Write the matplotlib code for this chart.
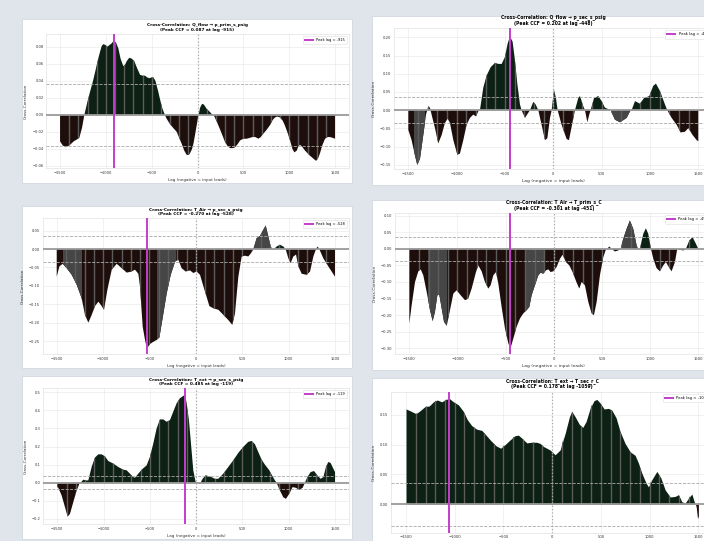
import matplotlib
matplotlib.use("Agg")
import matplotlib.pyplot as plt
import numpy as np
from matplotlib.patches import Rectangle
from matplotlib.path import Path

# cross-correlation curves, one per driver/target pair (lag in samples)
q_prim_lags = [-1500, -1470, -1440, -1400, -1350, -1318, -1290, -1260, -1235, -1200, -1173, -1140,
               -1118, -1090, -1064, -1045, -1027, -1005, -984, -960, -936, -915, -890, -864, -840,
               -809, -790, -773, -745, -718, -690, -660, -627, -600, -573, -550, -525, -500, -482,
               -460, -430, -409, -385, -360, -340, -300, -260, -227, -200, -173, -145, -118, -95,
               -82, -60, -45, -25, -9, 10, 30, 50, 70, 100, 130, 155, 175, 210, 245, 275, 300, 330,
               355, 385, 409, 440, 464, 500, 536, 570, 600, 630, 664, 690, 718, 750, 791, 820, 845,
               870, 900, 930, 955, 985, 1009, 1035, 1056, 1082, 1100, 1118, 1145, 1173, 1200, 1227,
               1260, 1293, 1315, 1336, 1360, 1391, 1420, 1445, 1475, 1500]
q_prim_ccf = [-0.031, -0.036, -0.038, -0.036, -0.031, -0.029, -0.027, -0.015, 0.0, 0.016, 0.027, 0.040,
              0.050, 0.063, 0.074, 0.081, 0.083, 0.082, 0.080, 0.082, 0.084, 0.087, 0.085, 0.078, 0.066,
              0.057, 0.059, 0.063, 0.067, 0.066, 0.063, 0.055, 0.047, 0.046, 0.046, 0.044, 0.043, 0.044,
              0.044, 0.040, 0.028, 0.018, 0.008, 0.001, -0.004, -0.011, -0.016, -0.020, -0.027, -0.034,
              -0.042, -0.047, -0.047, -0.045, -0.040, -0.034, -0.022, -0.012, 0.0, 0.009, 0.013, 0.012,
              0.007, 0.004, 0.001, 0.0, -0.008, -0.017, -0.025, -0.032, -0.037, -0.039, -0.039, -0.038,
              -0.034, -0.030, -0.028, -0.028, -0.027, -0.026, -0.026, -0.028, -0.026, -0.022, -0.018,
              -0.012, -0.006, -0.003, -0.002, -0.003, -0.007, -0.013, -0.022, -0.030, -0.040, -0.044,
              -0.042, -0.037, -0.035, -0.038, -0.042, -0.045, -0.048, -0.051, -0.054, -0.051, -0.045,
              -0.036, -0.028, -0.026, -0.026, -0.027, -0.028]

q_sec_lags = [-1500, -1466, -1431, -1407, -1379, -1345, -1317, -1293, -1276, -1259, -1224, -1190, -1155,
              -1121, -1093, -1069, -1034, -993, -966, -931, -897, -862, -828, -800, -776, -759, -724,
              -690, -648, -603, -569, -534, -500, -472, -448, -421, -397, -372, -345, -328, -293, -259,
              -241, -207, -183, -155, -121, -86, -62, -34, -17, 7, 27, 45, 86, 138, 162, 190, 224, 259,
              276, 310, 328, 352, 372, 386, 421, 466, 500, 534, 579, 593, 638, 690, 759, 793, 810, 845,
              896, 938, 993, 1034, 1062, 1103, 1155, 1179, 1224, 1276, 1317, 1362, 1397, 1441, 1483, 1500]
q_sec_ccf = [-0.054, -0.082, -0.124, -0.150, -0.133, -0.068, -0.012, 0.011, 0.007, -0.012, -0.049, -0.091,
             -0.068, -0.035, -0.023, -0.035, -0.082, -0.122, -0.119, -0.082, -0.040, -0.021, -0.012,
             -0.017, -0.003, 0.0, 0.062, 0.095, 0.118, 0.130, 0.127, 0.127, 0.146, 0.183, 0.202, 0.188,
             0.137, 0.072, 0.016, 0.0, -0.021, -0.007, 0.0, 0.023, 0.016, 0.0, -0.040, -0.082, -0.077,
             -0.021, 0.0, 0.056, 0.034, 0.0, -0.040, -0.079, -0.082, -0.045, 0.0, 0.034, 0.039, 0.011,
             0.0, -0.033, -0.012, 0.0, 0.033, 0.039, 0.025, 0.007, 0.002, 0.0, -0.026, -0.033, -0.021,
             -0.003, 0.0, 0.025, 0.018, 0.033, 0.039, 0.067, 0.073, 0.053, 0.016, 0.0, -0.021, -0.040,
             -0.061, -0.059, -0.049, -0.068, -0.082, -0.085]

air_sec_lags = [-1500, -1471, -1435, -1392, -1338, -1284, -1231, -1195, -1159, -1123, -1087, -1051, -1015,
                -990, -954, -907, -853, -799, -745, -692, -656, -620, -602, -573, -548, -528, -494, -458,
                -422, -393, -350, -314, -271, -224, -189, -153, -110, -63, -27, 9, 45, 74, 110, 146, 189,
                243, 297, 350, 393, 422, 458, 494, 530, 566, 595, 620, 656, 692, 728, 753, 781, 807, 828,
                843, 871, 907, 943, 968, 997, 1022, 1051, 1080, 1105, 1141, 1195, 1231, 1267, 1295, 1313,
                1331, 1374, 1428, 1500]
air_sec_ccf = [-0.075, -0.047, -0.040, -0.052, -0.070, -0.097, -0.134, -0.179, -0.200, -0.179, -0.155,
               -0.143, -0.155, -0.165, -0.111, -0.056, -0.040, -0.052, -0.064, -0.061, -0.056, -0.067,
               -0.102, -0.211, -0.247, -0.270, -0.258, -0.252, -0.247, -0.240, -0.175, -0.120, -0.070,
               -0.034, -0.029, -0.052, -0.061, -0.058, -0.065, -0.061, -0.070, -0.095, -0.125, -0.155,
               -0.161, -0.165, -0.179, -0.193, -0.206, -0.175, -0.075, -0.020, -0.018, -0.020, -0.011,
               0.0, 0.030, 0.036, 0.053, 0.064, 0.035, 0.007, -0.002, 0.0, 0.007, 0.012, 0.007, 0.0,
               -0.025, -0.038, -0.020, -0.015, -0.047, -0.067, -0.070, -0.061, -0.020, 0.0, 0.007, 0.0,
               -0.025, -0.047, -0.075]

air_prim_lags = [-1500, -1476, -1441, -1407, -1382, -1355, -1320, -1285, -1258, -1234, -1209, -1189, -1164,
                 -1140, -1112, -1078, -1043, -1009, -967, -922, -888, -853, -808, -784, -749, -715, -680,
                 -656, -628, -600, -576, -542, -507, -472, -451, -420, -386, -351, -317, -282, -254, -230,
                 -196, -161, -137, -109, -81, -57, -33, -6, 29, 64, 92, 126, 161, 195, 237, 265, 289, 323,
                 358, 393, 417, 445, 479, 514, 541, 555, 576, 600, 635, 669, 694, 721, 756, 790, 825, 860,
                 877, 894, 929, 956, 981, 1009, 1033, 1067, 1102, 1137, 1164, 1188, 1223, 1258, 1282, 1310,
                 1344, 1372, 1407, 1441, 1476, 1500]
air_prim_ccf = [-0.225, -0.170, -0.100, -0.068, -0.062, -0.080, -0.130, -0.185, -0.218, -0.190, -0.140,
                -0.138, -0.180, -0.220, -0.232, -0.185, -0.135, -0.125, -0.140, -0.155, -0.150, -0.120,
                -0.070, -0.050, -0.068, -0.100, -0.120, -0.110, -0.080, -0.070, -0.105, -0.175, -0.240,
                -0.285, -0.301, -0.270, -0.235, -0.210, -0.195, -0.185, -0.175, -0.140, -0.110, -0.080,
                -0.072, -0.075, -0.065, -0.062, -0.070, -0.068, -0.055, -0.030, -0.018, -0.040, -0.050,
                -0.070, -0.102, -0.120, -0.100, -0.110, -0.160, -0.195, -0.200, -0.160, -0.080, -0.025,
                -0.002, 0.0, 0.007, 0.0, -0.008, -0.005, 0.0, 0.030, 0.060, 0.085, 0.060, 0.010, -0.003,
                0.0, 0.045, 0.062, 0.045, 0.0, -0.030, -0.058, -0.068, -0.050, -0.040, -0.052, -0.068,
                -0.040, 0.0, -0.003, -0.005, 0.0, 0.025, 0.035, 0.015, 0.0]

ext_sec_lags = [-1500, -1489, -1453, -1417, -1388, -1363, -1327, -1291, -1262, -1248, -1219, -1190, -1165,
                -1129, -1093, -1057, -1021, -985, -949, -895, -841, -787, -751, -715, -679, -661, -625,
                -589, -535, -499, -463, -427, -391, -355, -319, -283, -247, -211, -175, -145, -119, -103,
                -78, -56, -31, -6, 16, 41, 70, 102, 149, 203, 239, 293, 347, 401, 455, 509, 563, 599, 635,
                671, 707, 743, 790, 826, 851, 869, 905, 941, 970, 1006, 1042, 1078, 1114, 1150, 1175,
                1201, 1237, 1273, 1309, 1345, 1374, 1402, 1428, 1453, 1482, 1500]
ext_sec_ccf = [-0.024, -0.028, -0.070, -0.135, -0.187, -0.172, -0.107, -0.043, -0.006, 0.0, 0.017, 0.013,
               0.013, 0.087, 0.139, 0.157, 0.157, 0.146, 0.120, 0.106, 0.087, 0.072, 0.069, 0.050, 0.031,
               0.028, 0.050, 0.072, 0.096, 0.143, 0.217, 0.300, 0.350, 0.350, 0.337, 0.346, 0.393, 0.439,
               0.467, 0.478, 0.485, 0.439, 0.346, 0.217, 0.069, 0.004, 0.0, -0.006, 0.022, 0.041, 0.035,
               0.022, 0.022, 0.050, 0.087, 0.124, 0.165, 0.198, 0.226, 0.231, 0.213, 0.170, 0.128, 0.100,
               0.069, 0.035, 0.013, 0.0, -0.043, -0.080, -0.089, -0.061, -0.024, -0.028, -0.039, -0.028,
               0.0, 0.031, 0.059, 0.065, 0.041, 0.022, 0.031, 0.087, 0.115, 0.109, 0.078, 0.059]

ext_ret_lags = [-1500, -1459, -1397, -1356, -1305, -1261, -1219, -1178, -1134, -1100, -1059, -1014, -963,
                -912, -871, -826, -775, -723, -679, -631, -576, -528, -484, -432, -381, -347, -312, -261,
                -210, -158, -124, -90, -22, 30, 81, 133, 177, 201, 235, 279, 314, 348, 389, 430, 458, 492,
                533, 577, 612, 656, 697, 748, 800, 851, 885, 920, 964, 988, 1022, 1074, 1115, 1159, 1211,
                1262, 1296, 1330, 1364, 1399, 1433, 1457, 1470, 1478, 1491, 1500]
ext_ret_ccf = [0.160, 0.157, 0.152, 0.157, 0.164, 0.165, 0.172, 0.175, 0.172, 0.175, 0.178, 0.172, 0.167,
               0.156, 0.142, 0.132, 0.126, 0.124, 0.116, 0.107, 0.098, 0.094, 0.100, 0.108, 0.115, 0.116,
               0.111, 0.103, 0.104, 0.104, 0.102, 0.097, 0.091, 0.083, 0.091, 0.119, 0.147, 0.156, 0.147,
               0.134, 0.129, 0.139, 0.161, 0.174, 0.176, 0.170, 0.160, 0.161, 0.158, 0.145, 0.122, 0.102,
               0.088, 0.082, 0.069, 0.052, 0.035, 0.029, 0.041, 0.055, 0.044, 0.024, 0.012, 0.013, 0.016,
               0.004, 0.002, 0.010, 0.017, 0.004, 0.0, -0.005, -0.024, -0.020]

# driver, target, peak lag, peak CCF
pairs = [("Q_flow", "p_prim_s_psig", -915, 0.087),
         ("Q_flow", "p_sec_s_psig", -448, 0.202),
         ("T_Air", "p_sec_s_psig", -528, -0.270),
         ("T_Air", "T_prim_s_C", -451, -0.301),
         ("T_ext", "p_sec_s_psig", -119, 0.485),
         ("T_ext", "T_sec_r_C", -1059, 0.178)]

# stretches of the fill drawn in grey
grey_spans = [[],
              [(-1445, -1330), (600, 800)],
              [(-1428, -1231), (-422, -214), (620, 835)],
              [(-1303, -1106), (-289, -92), (704, 877)],
              [],
              []]

conf_level = 0.036
max_lag = 1650

POS = "#0c2014"
NEG = "#1e0e0b"
GREY = "#464646"
STRIPE = "#5c5c5c"
PEAK = "#c23fc9"

W, H = 704, 541
fig = plt.figure(figsize=(W / 100, H / 100), dpi=100)
fig.patch.set_facecolor("#dfe5eb")

# pixel boxes: card (x0, y0, x1, y1), plot area (left, top, right, bottom), y limits
layout = [((22, 19, 352, 183), (46.3, 34, 348.8, 168.3), (-0.0627, 0.0949), 1.0),
          ((372, 16, 712, 185), (393.8, 28.3, 712.8, 169.3), (-0.162, 0.2247), 1.05),
          ((22, 206, 352, 368), (42.8, 218.3, 348.9, 354.3), (-0.286, 0.0837), 1.0),
          ((372, 200, 712, 370), (394.9, 213.3, 712.7, 354.3), (-0.318, 0.107), 1.05),
          ((22, 376, 352, 539), (43.4, 388.3, 348.9, 524), (-0.228, 0.522), 1.0),
          ((372, 378, 712, 545), (391.4, 391.7, 713, 532.7), (-0.048, 0.189), 1.05)]

curves = [(q_prim_lags, q_prim_ccf), (q_sec_lags, q_sec_ccf), (air_sec_lags, air_sec_ccf),
          (air_prim_lags, air_prim_ccf), (ext_sec_lags, ext_sec_ccf), (ext_ret_lags, ext_ret_ccf)]

for i, ((lags, ccf), (src, dst, peak_lag, peak_val), (card, box, ylim, s)) in enumerate(
        zip(curves, pairs, layout)):
    lags = np.array(lags, dtype=float)
    ccf = np.array(ccf)

    x0, y0, x1, y1 = card
    fig.add_artist(Rectangle((x0 / W, 1 - y1 / H), (x1 - x0) / W, (y1 - y0) / H,
                             transform=fig.transFigure, facecolor="white",
                             edgecolor="#d2d8de", lw=0.6, zorder=-1))

    left, top, right, bottom = box
    ax = fig.add_axes([left / W, 1 - bottom / H, (right - left) / W, (bottom - top) / H])
    ax.set_facecolor("white")

    pos = ax.fill_between(lags, ccf, 0, where=ccf >= 0, interpolate=True, color=POS, lw=0, zorder=2)
    neg = ax.fill_between(lags, ccf, 0, where=ccf <= 0, interpolate=True, color=NEG, lw=0, zorder=2)
    area = Path.make_compound_path(*(pos.get_paths() + neg.get_paths()))

    for a, b in grey_spans[i]:
        span = ax.axvspan(a, b, color=GREY, lw=0, zorder=2.1)
        span.set_clip_path(area, ax.transData)

    stripes = ax.vlines(np.arange(-1400, 1500, 100), ylim[0], ylim[1], colors=STRIPE,
                        lw=1.0, zorder=2.2)
    stripes.set_clip_path(area, ax.transData)

    ax.axhline(0, color="#9a9a9a", lw=1.3, zorder=3)
    ax.axhline(conf_level, color="#aaaaaa", ls="--", lw=0.6, zorder=3)
    ax.axhline(-conf_level, color="#aaaaaa", ls="--", lw=0.6, zorder=3)
    ax.axvline(0, color="#aaaaaa", ls=":", lw=0.9, zorder=3)
    ax.axvline(peak_lag, color=PEAK, lw=1.4, zorder=4, label=f"Peak lag = {peak_lag}")

    ax.set_xlim(-max_lag, max_lag)
    ax.set_ylim(*ylim)
    ax.set_xticks([-1500, -1000, -500, 0, 500, 1000, 1500])
    ax.grid(True, color="#ececec", lw=0.5, zorder=0)
    ax.set_axisbelow(True)
    for sp in ax.spines.values():
        sp.set_color("#e2e2e2")
        sp.set_linewidth(0.5)
    ax.tick_params(length=0, labelsize=2.6 * s, colors="#333333", pad=2)

    ax.set_title(f"Cross-Correlation: {src} \u2192 {dst}\n(Peak CCF = {peak_val:.3f} at lag {peak_lag})",
                 fontsize=3.1 * s, fontweight="bold", pad=2.5, linespacing=1.1)
    ax.set_xlabel("Lag (negative = input leads)", fontsize=3.0 * s, color="#333333", labelpad=2)
    ax.set_ylabel("Cross-Correlation", fontsize=3.0 * s, color="#333333", labelpad=3)
    leg = ax.legend(loc="upper right", fontsize=2.6 * s, handlelength=2.2, borderpad=0.6,
                    framealpha=1, edgecolor="#dddddd", fancybox=True)
    leg.get_frame().set_linewidth(0.4)

fig.savefig("out.png", dpi=100)
